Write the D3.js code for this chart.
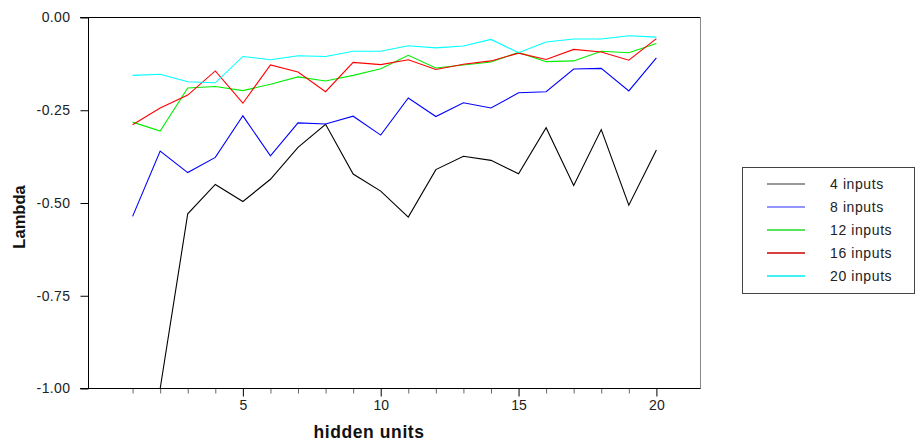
<!DOCTYPE html>
<html><head><meta charset="utf-8">
<script src="https://cdn.jsdelivr.net/npm/d3@7/dist/d3.min.js"></script>
<style>body{margin:0;background:#fff}svg{display:block;font-family:"Liberation Sans",Arial,sans-serif}</style>
</head><body><svg id="c" width="919" height="442"></svg>
<script>
const hiddenUnits = d3.range(1, 21);
const seriesNames = ["4 inputs", "8 inputs", "12 inputs", "16 inputs", "20 inputs"];
const inputs4  = [-1.00,-1.00,-0.529,-0.450,-0.496,-0.436,-0.350,-0.288,-0.422,-0.468,-0.538,-0.410,-0.374,-0.385,-0.421,-0.297,-0.453,-0.302,-0.506,-0.357];
const inputs8  = [-0.536,-0.360,-0.418,-0.377,-0.265,-0.373,-0.284,-0.287,-0.266,-0.317,-0.217,-0.267,-0.230,-0.244,-0.203,-0.200,-0.139,-0.137,-0.198,-0.109];
const inputs12 = [-0.282,-0.306,-0.190,-0.186,-0.197,-0.180,-0.160,-0.171,-0.156,-0.138,-0.102,-0.136,-0.128,-0.120,-0.094,-0.119,-0.117,-0.091,-0.095,-0.070];
const inputs16 = [-0.289,-0.244,-0.209,-0.144,-0.231,-0.128,-0.147,-0.200,-0.121,-0.127,-0.114,-0.140,-0.126,-0.117,-0.096,-0.113,-0.086,-0.093,-0.115,-0.057];
const inputs20 = [-0.156,-0.153,-0.173,-0.176,-0.105,-0.114,-0.103,-0.105,-0.091,-0.091,-0.076,-0.082,-0.077,-0.059,-0.095,-0.066,-0.058,-0.058,-0.049,-0.053];
const yTicks = [0, -0.25, -0.5, -0.75, -1.0];
const xMajorTicks = [5, 10, 15, 20];

const series = [inputs4, inputs8, inputs12, inputs16, inputs20];
const lineColors = ["#000000", "#0000ff", "#00ee00", "#ff0000", "#00ffff"];
const legendColors = ["#777777", "#7070ff", "#22dd22", "#cc0000", "#00eeee"];
const FONT = "'Liberation Sans', Arial, sans-serif";

const svg = d3.select("#c");
const L = 88.5, R = 700.5, T = 17.5, B = 388.5;
const x = d3.scaleLinear().domain([-0.6, 21.6]).range([L, R]);
const y = d3.scaleLinear().domain([-1, 0]).range([B, T]);

// frame
svg.append("line").attr("x1", 80).attr("x2", R).attr("y1", T).attr("y2", T).attr("stroke", "#000");
svg.append("line").attr("x1", R).attr("x2", R).attr("y1", T).attr("y2", B).attr("stroke", "#888");

// y axis
const yAxis = d3.axisLeft(y).tickValues(yTicks).tickSize(8).tickPadding(10).tickFormat(d => d.toFixed(2));
const gy = svg.append("g").attr("transform", `translate(${L},0)`).call(yAxis).attr("font-family", FONT);
gy.select(".domain").attr("d", `M-8,${T}H0V${B}H-8`).attr("stroke", "#000");
gy.selectAll(".tick line").attr("stroke", "#000");
gy.selectAll("text").attr("font-size", 14).attr("fill", "#222").attr("letter-spacing", 0.4);

// x axis minor
const xMinor = d3.axisBottom(x).tickValues(hiddenUnits.filter(d => d % 5 !== 0)).tickSize(5).tickFormat("");
const gxm = svg.append("g").attr("transform", `translate(0,${B})`).call(xMinor);
gxm.select(".domain").remove();
gxm.selectAll(".tick line").attr("stroke", "#666");
// x axis major
const xAxis = d3.axisBottom(x).tickValues(xMajorTicks).tickSize(8).tickPadding(4).tickFormat(d => String(d));
const gx = svg.append("g").attr("transform", `translate(0,${B})`).call(xAxis).attr("font-family", FONT);
gx.select(".domain").attr("d", `M80,0H${R}`).attr("stroke", "#000");
gx.selectAll(".tick line").attr("stroke", "#000");
gx.selectAll("text").attr("font-size", 14).attr("fill", "#222");

// axis titles
svg.append("text").attr("x", 369).attr("y", 437.5).attr("text-anchor", "middle").attr("font-family", FONT)
  .attr("font-weight", "bold").attr("font-size", 17.5).attr("letter-spacing", 0.6).attr("fill", "#111").text("hidden units");
svg.append("text").attr("transform", "translate(25,217) rotate(-90)").attr("text-anchor", "middle").attr("font-family", FONT)
  .attr("font-weight", "bold").attr("font-size", 16.5).attr("fill", "#111").text("Lambda");

// lines
const line = d3.line().x((d, i) => x(hiddenUnits[i])).y(d => y(d));
series.forEach((s, k) => {
  svg.append("path").datum(s).attr("d", line).attr("fill", "none")
    .attr("stroke", lineColors[k]).attr("stroke-width", 1.1);
});

// legend
const lg = svg.append("g").attr("font-family", FONT);
lg.append("rect").attr("x", 742.5).attr("y", 167.5).attr("width", 172).attr("height", 126)
  .attr("fill", "#fff").attr("stroke", "#444");
seriesNames.forEach((n, k) => {
  const yy = 184 + k * 23;
  lg.append("line").attr("x1", 767).attr("x2", 805).attr("y1", yy).attr("y2", yy)
    .attr("stroke", legendColors[k]).attr("stroke-width", 1.6);
  lg.append("text").attr("x", 830).attr("y", yy + 4.5).attr("font-size", 14).attr("letter-spacing", 0.6)
    .attr("fill", "#222").text(n);
});
</script></body></html>
